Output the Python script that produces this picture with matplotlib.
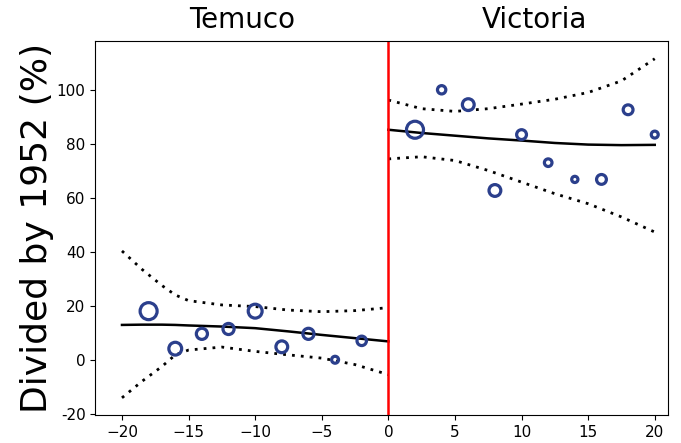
import matplotlib.pyplot as plt

# Scatter data (percent divided by 1952), marker area ~ weight
x_pts = [-18, -16, -14, -12, -10, -8, -6, -4, -2,
         2, 4, 6, 8, 10, 12, 14, 16, 18, 20]
y_pts = [18, 4.1, 9.6, 11.4, 18, 4.8, 9.6, 0, 7,
         85.2, 100, 94.5, 62.7, 83.4, 73, 66.8, 66.8, 92.6, 83.4]
w_pts = [150, 85, 64, 64, 100, 72, 64, 25, 46,
         150, 36, 72, 72, 50, 30, 20, 50, 50, 25]

# fitted curves and confidence bands
x_left = [-20, -18.5, -17, -16, -15, -12.5, -10, -7.5, -5, -2.5, 0]
fit_left = [12.9, 13.0, 13.0, 12.9, 12.7, 12.3, 11.7, 10.5, 9.2, 8.0, 6.8]
up_left = [40.3, 33.5, 27.5, 24.0, 21.9, 20.3, 19.7, 18.4, 17.8, 18.2, 19.3]
lo_left = [-14.1, -8.0, -2.5, 1.8, 3.6, 4.7, 3.1, 1.8, 0.6, -1.8, -5.5]

x_right = [0, 2.5, 5, 7.5, 10, 12.5, 15, 17.5, 20]
fit_right = [85.2, 84.0, 83.0, 82.0, 81.2, 80.3, 79.7, 79.5, 79.6]
up_right = [96.2, 93.0, 92.0, 93.0, 94.7, 96.5, 99.0, 103.3, 111.5]
lo_right = [74.4, 75.2, 73.8, 70.1, 65.8, 61.5, 57.8, 52.9, 47.3]

yticks = [-20, 0, 20, 40, 60, 80, 100]

fig, ax = plt.subplots(figsize=(6.81, 4.43), dpi=100)
fig.subplots_adjust(left=0.14, right=0.981, top=0.907, bottom=0.063)

for xs, f, u, l in [(x_left, fit_left, up_left, lo_left),
                    (x_right, fit_right, up_right, lo_right)]:
    ax.plot(xs, f, color="black", lw=1.8)
    ax.plot(xs, u, color="black", lw=2, linestyle=(0, (1, 2.2)))
    ax.plot(xs, l, color="black", lw=2, linestyle=(0, (1, 2.2)))

ax.scatter(x_pts, y_pts, s=w_pts, facecolors="none",
           edgecolors="#2b3f8c", linewidths=2.3, zorder=3)

ax.axvline(0, color="red", lw=1.8)

ax.set_xlim(-22, 21)
ax.set_ylim(-20.5, 118)
ax.set_xticks([-20, -15, -10, -5, 0, 5, 10, 15, 20])
ax.set_yticks(yticks)
ax.set_yticklabels([str(t) for t in yticks])
ax.tick_params(labelsize=11)
ax.set_ylabel("Divided by 1952 (%)", fontsize=26, labelpad=2)

ax.text(-11, 1.02, "Temuco", transform=ax.get_xaxis_transform(),
        ha="center", va="bottom", fontsize=20)
ax.text(11, 1.02, "Victoria", transform=ax.get_xaxis_transform(),
        ha="center", va="bottom", fontsize=20)

plt.savefig("out.png")
